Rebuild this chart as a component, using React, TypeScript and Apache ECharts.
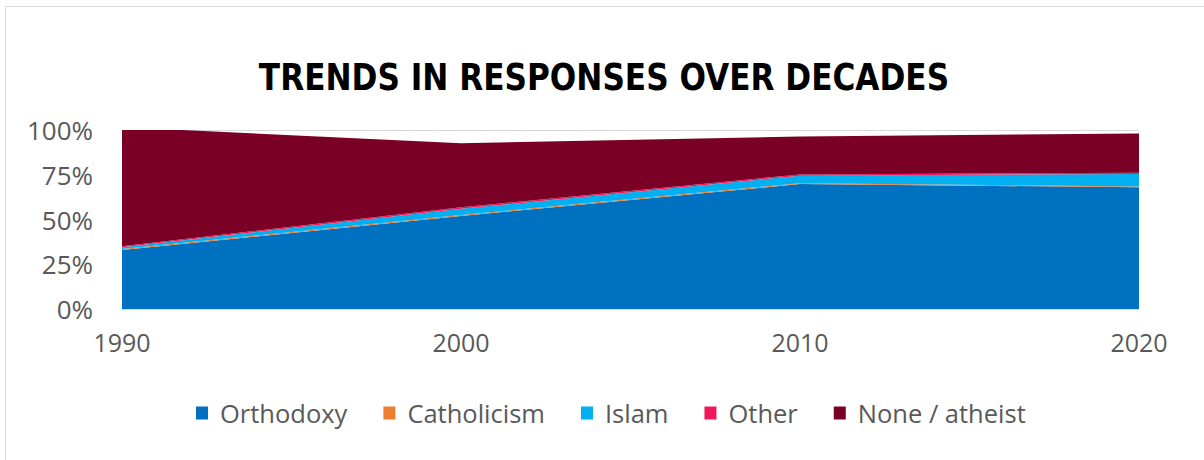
import React, { useEffect, useRef } from "react";
import * as echarts from "echarts";

const years = ["1990", "2000", "2010", "2020"];
const orthodoxy = [33, 52, 69.8, 68];
const catholicism = [0.5, 0.5, 0.5, 0.5];
const islam = [1, 3.5, 4.2, 6.9];
const other = [0.6, 0.8, 0.7, 0.7];
const noneAtheist = [66.5, 35.8, 21.1, 22];

const seriesNames = ["Orthodoxy", "Catholicism", "Islam", "Other", "None / atheist"];
const seriesColors = ["#0070C0", "#ED7D31", "#00B0F0", "#F0185A", "#7A0026"];
const seriesData = [orthodoxy, catholicism, islam, other, noneAtheist];

const FONT = "'Open Sans', 'Noto Sans', sans-serif";

export default function App() {
  const ref = useRef<HTMLDivElement>(null);
  useEffect(() => {
    if (!ref.current) return;
    const chart = echarts.init(ref.current, undefined, { renderer: "svg" });
    chart.setOption({
      animation: false,
      backgroundColor: "#ffffff",
      textStyle: { fontFamily: FONT },
      graphic: [
        {
          type: "rect",
          shape: { x: 5.5, y: 6.5, width: 1400, height: 600 },
          style: { fill: "none", stroke: "#d9d9d9", lineWidth: 1 },
          silent: true,
          z: -10,
        },
        {
          type: "text",
          x: 604,
          y: 77,
          scaleX: 0.912,
          originX: 0,
          style: {
            text: "TRENDS IN RESPONSES OVER DECADES",
            fill: "#000000",
            font: "bold 38px 'Liberation Sans Narrow', 'DejaVu Sans Condensed', sans-serif",
            align: "center",
            verticalAlign: "middle",
          },
        },
      ],
      grid: { left: 122, right: 65, top: 130, bottom: 151, containLabel: false },
      legend: {
        left: 196,
        top: 400,
        padding: 0,
        itemWidth: 12,
        itemHeight: 13,
        itemGap: 36,
        icon: "rect",
        textStyle: { fontFamily: FONT, fontSize: 25.5, color: "#595959", padding: [0, 0, 0, 7] },
        data: seriesNames,
      },
      xAxis: {
        type: "category",
        boundaryGap: false,
        data: years,
        axisLine: { show: false },
        axisTick: { show: false },
        axisLabel: { fontFamily: FONT, fontSize: 25, color: "#595959", margin: 20 },
      },
      yAxis: {
        type: "value",
        min: 0,
        max: 100,
        interval: 25,
        axisLine: { show: false },
        axisTick: { show: false },
        splitLine: { lineStyle: { color: "#d9d9d9", width: 1 } },
        axisLabel: {
          fontFamily: FONT,
          fontSize: 26,
          color: "#595959",
          margin: 29,
          formatter: "{value}%",
        },
      },
      series: seriesNames.map((name, i) => ({
        name,
        type: "line",
        stack: "total",
        data: seriesData[i],
        showSymbol: false,
        symbol: "none",
        clip: true,
        lineStyle: { width: 0 },
        itemStyle: { color: seriesColors[i] },
        areaStyle: { color: seriesColors[i], opacity: 1 },
      })),
    });
    return () => chart.dispose();
  }, []);
  return (
    <div
      ref={ref}
      style={{ position: "fixed", left: 0, top: 0, width: 1204, height: 460 }}
    />
  );
}
